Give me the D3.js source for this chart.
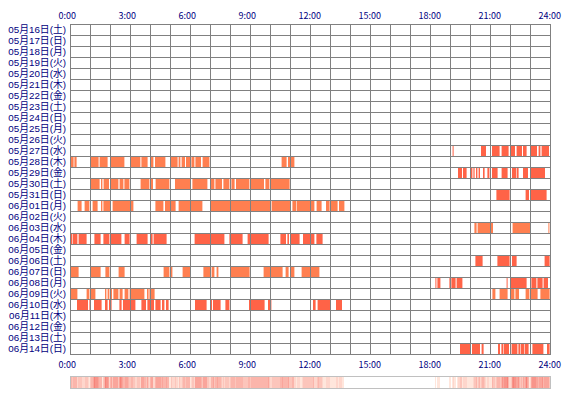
<!DOCTYPE html>
<html>
<head>
<meta charset="utf-8">
<script src="https://cdn.jsdelivr.net/npm/d3@7"></script>
<style>
  body { margin: 0; background: #fff; }
  text { font-family: "Noto Sans CJK JP", "Liberation Sans", sans-serif; fill: #000080; }
  .dayLabel { font-family: "Liberation Sans", "Noto Sans CJK JP", sans-serif; }
</style>
</head>
<body>
<div id="plot"></div>
<script>
let days = [
    '05月16日(土)', '05月17日(日)', '05月18日(月)', '05月19日(火)', '05月20日(水)',
    '05月21日(木)', '05月22日(金)', '05月23日(土)', '05月24日(日)', '05月25日(月)',
    '05月26日(火)', '05月27日(水)', '05月28日(木)', '05月29日(金)', '05月30日(土)',
    '05月31日(日)', '06月01日(月)', '06月02日(火)', '06月03日(水)', '06月04日(木)',
    '06月05日(金)', '06月06日(土)', '06月07日(日)', '06月08日(月)', '06月09日(火)',
    '06月10日(水)', '06月11日(木)', '06月12日(金)', '06月13日(土)', '06月14日(日)'
];

let hourTicks = [0, 3, 6, 9, 12, 15, 18, 21, 24];
let tickLabels = ['0:00', '3:00', '6:00', '9:00', '12:00', '15:00', '18:00', '21:00', '24:00'];

// two kinds of sessions, one colour each
let kindColors = ['#ff6347', '#ff7f50'];
let dayKind = [0, 0, 0, 0, 0, 0, 0, 0, 0, 0, 0, 0, 1, 0, 1, 0, 1, 0, 1, 0, 0, 0, 1, 0, 1, 0, 0, 0, 0, 0];

// [start hour, end hour] per day
let sessions = [
    [], [], [], [], [], [], [], [], [], [], [],
    [[19.13, 19.18], [20.55, 20.8], [21.1, 21.48], [21.58, 21.93], [22.03, 22.25], [22.33, 22.6], [22.65, 22.83], [23.05, 23.35], [23.43, 23.52], [23.58, 23.95]],
    [[0.05, 0.18], [0.22, 0.33], [1.05, 1.43], [1.48, 1.88], [2.02, 2.72], [3.03, 3.52], [3.57, 3.88], [4.0, 4.17], [4.25, 4.77], [5.03, 5.38], [5.43, 5.52], [5.58, 5.75], [5.8, 6.0], [6.07, 6.22], [6.27, 6.55], [6.63, 6.97], [10.58, 10.83], [10.9, 11.22]],
    [[19.4, 19.6], [19.65, 19.83], [20.03, 20.12], [20.17, 20.23], [20.3, 20.37], [20.43, 20.5], [20.65, 20.73], [20.87, 20.97], [21.1, 21.38], [21.58, 21.88], [22.1, 22.32], [22.35, 22.43], [22.65, 22.9], [23.05, 23.75]],
    [[1.05, 1.48], [1.55, 1.62], [1.68, 1.95], [2.03, 2.42], [2.48, 2.67], [2.72, 2.97], [3.53, 3.97], [4.05, 4.15], [4.28, 4.97], [5.25, 6.0], [6.12, 6.87], [7.05, 7.22], [7.27, 7.6], [7.67, 7.97], [8.07, 8.23], [8.3, 8.97], [9.05, 9.7], [9.77, 9.97], [10.05, 10.98]],
    [[21.32, 21.98], [22.78, 22.95], [23.05, 23.83]],
    [[0.38, 0.58], [0.73, 0.97], [1.13, 1.38], [1.55, 1.62], [1.67, 2.0], [2.13, 3.17], [4.27, 4.67], [4.75, 5.0], [5.05, 5.28], [5.43, 6.62], [7.02, 10.0], [10.08, 11.0], [11.12, 11.32], [11.35, 12.22], [12.33, 12.58], [12.8, 12.98], [13.05, 13.38], [13.45, 13.72]],
    [],
    [[20.22, 20.33], [20.38, 21.15], [22.13, 23.02], [23.92, 23.97]],
    [[0.05, 0.12], [0.15, 0.37], [0.43, 0.83], [1.22, 1.53], [1.67, 1.97], [2.02, 2.57], [2.73, 2.98], [3.33, 3.88], [4.02, 4.13], [4.18, 4.83], [6.23, 7.72], [7.97, 8.63], [8.88, 9.93], [10.52, 10.8], [10.87, 10.95], [11.0, 11.48], [11.65, 12.22], [12.32, 12.63]],
    [],
    [[20.27, 20.63], [21.37, 21.98], [22.1, 22.33], [23.73, 23.98]],
    [[0.02, 0.43], [1.02, 1.53], [1.77, 1.97], [2.43, 2.73], [4.68, 4.97], [5.02, 5.12], [5.63, 6.0], [6.67, 7.02], [7.08, 7.22], [7.33, 7.42], [8.02, 8.98], [9.68, 10.63], [10.78, 10.93], [11.0, 11.22], [11.58, 12.47]],
    [[18.27, 18.32], [18.37, 18.52], [18.97, 19.07], [19.08, 19.28], [19.33, 19.62], [21.83, 21.88], [22.0, 22.83], [23.07, 23.32], [23.37, 23.63], [23.68, 23.9]],
    [[0.02, 0.37], [0.83, 0.97], [1.0, 1.27], [1.75, 1.82], [1.88, 1.97], [2.02, 2.1], [2.17, 2.42], [2.48, 2.63], [2.73, 2.92], [2.98, 3.72], [3.85, 3.93], [3.97, 4.23], [21.12, 21.27], [21.48, 21.88], [22.02, 22.22], [22.27, 22.45], [22.78, 22.95], [22.98, 23.38], [23.52, 23.98]],
    [[0.35, 0.9], [0.97, 1.03], [1.2, 1.58], [1.75, 1.88], [1.95, 2.08], [2.47, 2.58], [2.65, 3.27], [3.57, 3.8], [3.87, 4.2], [4.27, 4.53], [4.6, 4.72], [4.8, 4.93], [6.25, 6.83], [7.05, 7.1], [7.15, 7.53], [7.77, 7.97], [8.95, 9.73], [9.9, 10.07], [12.15, 12.28], [12.38, 13.03], [13.3, 13.6]],
    [], [], [],
    [[19.5, 20.03], [20.1, 20.5], [20.58, 20.68], [21.4, 21.5], [21.57, 21.67], [21.7, 21.95], [22.08, 22.37], [22.42, 22.5], [22.53, 22.7], [22.73, 22.93], [23.0, 23.05], [23.12, 23.67], [23.85, 23.98]]
];

let svgWidth = 570;
let svgHeight = 400;

let $svg = d3.select('#plot')
    .append('svg')
    .attr('width', svgWidth)
    .attr('height', svgHeight);

let x = d3.scaleLinear().domain([0, 24]).range([70, 550]);
let y = d3.scaleBand().domain(days).range([24, 354]).padding(0);

// flatten sessions into bars
let bars = [];
sessions.forEach((list, i) => {
    list.forEach(s => bars.push({ day: days[i], kind: dayKind[i], start: s[0], end: s[1] }));
});

$svg.append('g')
    .selectAll('rect')
    .data(bars)
    .enter()
    .append('rect')
    .attr('x', d => x(d.start))
    .attr('width', d => Math.max(1, x(d.end) - x(d.start)))
    .attr('y', d => y(d.day) + 0.5)
    .attr('height', y.bandwidth())
    .attr('fill', d => kindColors[d.kind]);

// grid
let grid = $svg.append('g').attr('stroke', '#808080').attr('stroke-width', 1).attr('shape-rendering', 'crispEdges');
grid.selectAll('line.v')
    .data(d3.range(0, 25))
    .enter()
    .append('line')
    .attr('x1', d => x(d) + 0.5)
    .attr('x2', d => x(d) + 0.5)
    .attr('y1', 24)
    .attr('y2', 354.5);
grid.selectAll('line.h')
    .data(d3.range(0, days.length + 1))
    .enter()
    .append('line')
    .attr('x1', 70)
    .attr('x2', 551)
    .attr('y1', d => 24.5 + d * y.bandwidth())
    .attr('y2', d => 24.5 + d * y.bandwidth());

// day labels
$svg.append('g')
    .selectAll('text')
    .data(days)
    .enter()
    .append('text')
    .attr('class', 'dayLabel')
    .attr('x', 66)
    .attr('y', d => y(d) + 9.3)
    .attr('text-anchor', 'end')
    .attr('font-size', '9.8px')
    .text(d => d);

// hour labels top and bottom
[18.5, 368].forEach(ty => {
    $svg.append('g')
        .selectAll('text')
        .data(hourTicks)
        .enter()
        .append('text')
        .attr('x', d => x(d) - 11.5)
        .attr('y', ty)
        .attr('font-size', '9px')
        .text((d, i) => tickLabels[i]);
});

// density strip
let nBins = 480;
let counts = d3.range(nBins).map(b => {
    let t = (b + 0.5) * 24 / nBins;
    return bars.filter(d => d.start <= t && t < d.end).length;
});
let maxCount = d3.max(counts);
let heat = d3.scaleLinear().domain([0, 1, maxCount]).range(['#ffffff', '#ffe6dc', '#f7847a']);

let strip = $svg.append('g');
strip.selectAll('rect')
    .data(counts)
    .enter()
    .append('rect')
    .attr('x', (d, i) => x(i * 24 / nBins))
    .attr('width', x(24 / nBins) - x(0) + 0.2)
    .attr('y', 376)
    .attr('height', 13)
    .attr('fill', d => heat(d));
strip.append('rect')
    .attr('x', 70.5)
    .attr('y', 376.5)
    .attr('width', 480)
    .attr('height', 12)
    .attr('fill', 'none')
    .attr('stroke', '#c0c0c0');
</script>
</body>
</html>
